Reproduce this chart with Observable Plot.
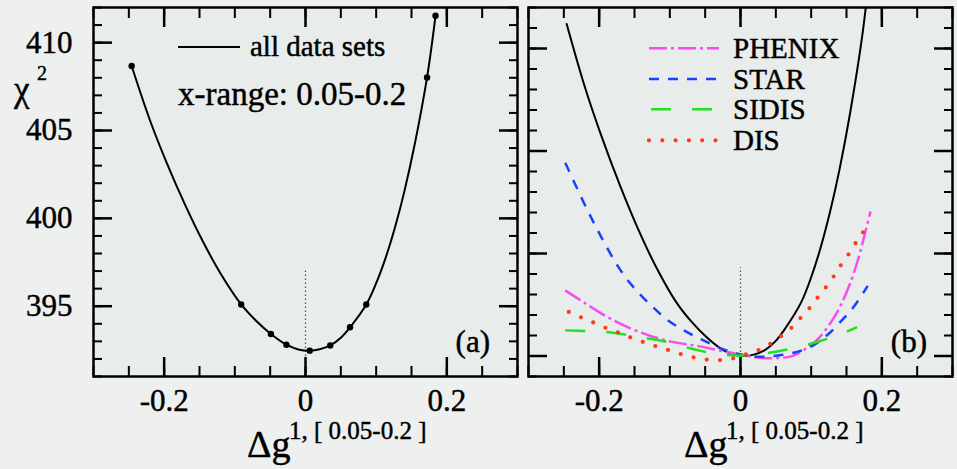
<!DOCTYPE html>
<html><head><meta charset="utf-8">
<script src="https://cdn.jsdelivr.net/npm/d3@7"></script>
<script src="https://cdn.jsdelivr.net/npm/@observablehq/plot@0.6"></script>
<style>
html,body{margin:0;padding:0;background:#edf0ee;}
#wrap{position:relative;width:957px;height:469px;overflow:hidden;font-family:"Liberation Serif","Times New Roman","DejaVu Serif",serif;}
#wrap > svg{position:absolute;top:0;}
#wrap text{font-family:"Liberation Serif","Times New Roman","DejaVu Serif",serif;}
</style></head><body><div id="wrap"></div>
<script>
// ---------- data ----------
// panel (a): chi^2 of all data sets vs Δg — computed points (dots)
const allX    = [-0.246, -0.091, -0.049, -0.027, 0.006, 0.035, 0.063, 0.086, 0.172, 0.184];
const allChi2 = [408.67, 395.10, 393.42, 392.81, 392.47, 392.77, 393.80, 395.10, 408.02, 411.53];
// the smooth curve drawn through them
const curveX    = [-0.246,-0.22,-0.197,-0.17,-0.145,-0.12,-0.091,-0.07,-0.049,-0.027,-0.01,0.006,0.02,0.035,0.05,0.063,0.086,0.1,0.113,0.127,0.14,0.155,0.172,0.184];
const curveChi2 = [408.67,405.57,403.22,400.74,398.67,396.85,395.10,394.17,393.42,392.81,392.54,392.47,392.55,392.77,393.21,393.80,395.10,396.31,397.71,399.54,401.55,404.30,408.02,411.53];
// panel (b): Δχ² contributions
const phenixX = [-0.248,-0.221,-0.183,-0.143,-0.102,-0.058,-0.015,0.028,0.05,0.072,0.09,0.108,0.134,0.153,0.167,0.177,0.184];
const phenixY = [3.2,2.6,1.8,1.17,0.73,0.47,0.17,-0.09,-0.1,-0.02,0.3,0.77,1.97,3.35,4.78,6.1,7.05];
const starX   = [-0.248,-0.221,-0.197,-0.172,-0.15,-0.126,-0.103,-0.08,-0.05,-0.022,0.0,0.025,0.053,0.08,0.103,0.122,0.141,0.16,0.18];
const starY   = [9.43,7.43,5.8,4.3,3.3,2.45,1.75,1.25,0.72,0.3,0.07,-0.04,0.03,0.2,0.52,1.0,1.65,2.39,3.42];
const sidisX  = [-0.248,-0.22,-0.19,-0.163,-0.135,-0.109,-0.078,-0.055,-0.025,0,0.033,0.056,0.087,0.113,0.141,0.165];
const sidisY  = [1.25,1.22,1.17,1.04,0.88,0.72,0.44,0.24,0.07,0.03,0.12,0.24,0.49,0.73,1.06,1.41];
const disX    = [-0.243,-0.226,-0.208,-0.192,-0.174,-0.156,-0.139,-0.121,-0.103,-0.085,-0.068,-0.049,-0.03,-0.011,0.007,0.025,0.041,0.056,0.072,0.084,0.097,0.108,0.12,0.131,0.141,0.152,0.162,0.173,0.182];
const disY    = [2.15,1.89,1.63,1.39,1.16,0.91,0.7,0.49,0.3,0.1,-0.05,-0.17,-0.2,-0.12,0.07,0.28,0.57,0.93,1.37,1.82,2.31,2.8,3.32,3.84,4.38,4.91,5.46,6.02,6.56];
// ticks
const xMajor = [-0.2, 0, 0.2];
const xMinor = [-0.3,-0.25,-0.2,-0.15,-0.1,-0.05,0,0.05,0.1,0.15,0.2,0.25,0.3];
const chiMajor = [395, 400, 405, 410];
const chiMinor = d3.range(391, 413);
const dMajor = [0, 5, 10, 15];
const dMinor = d3.range(-1, 18);
const xDomain = [-0.3, 0.3];
const chiDomain = [391, 412];
const dDomain = [-1, 17];
// dotted reference line at Δg = 0
const refA = [{x: 0, y1: 391, y2: 397}];
const refB = [{x: 0, y1: -1, y2: 4.3}];
// series legend
const series = [
  {name: "PHENIX", x: phenixX, y: phenixY, color: "#f84cee", dash: "18,4,3,4", cap: "butt", width: 2.5},
  {name: "STAR",   x: starX,   y: starY,   color: "#1c40ff", dash: "10,9", cap: "butt", width: 2.5},
  {name: "SIDIS",  x: sidisX,  y: sidisY,  color: "#22e022", dash: "20,21", cap: "butt", width: 2.5},
  {name: "DIS",    x: disX,    y: disY,    color: "#ff3a18", dash: "0,13.3", cap: "round", width: 4.2}
];

const FONT = "'Liberation Serif', 'Times New Roman', 'DejaVu Serif', serif";
const fmt = d => d === 0 ? "0" : String(d);
const toRows = (xs, ys) => xs.map((x, i) => ({x, y: ys[i]}));
const TS = {textStroke: "#000", textStrokeWidth: 0.45, textStrokeOpacity: 1};

function axes(yMajor, yMinor, showY) {
  const s = {stroke: "#000", label: null, fill: "none"};
  return [
    Plot.axisX(xMinor, {...s, anchor: "bottom", tickSize: -10, strokeWidth: 2}),
    Plot.axisX(xMajor, {...s, anchor: "bottom", tickSize: -19, strokeWidth: 2.5}),
    Plot.axisX(xMinor, {...s, anchor: "top", tickSize: -10, strokeWidth: 2}),
    Plot.axisX(xMajor, {...s, anchor: "top", tickSize: -19, strokeWidth: 2.5}),
    Plot.axisY(yMinor, {...s, anchor: "left", tickSize: -9, strokeWidth: 2}),
    Plot.axisY(yMajor, {...s, anchor: "left", tickSize: -19, strokeWidth: 2.5}),
    Plot.axisY(yMinor, {...s, anchor: "right", tickSize: -9, strokeWidth: 2}),
    Plot.axisY(yMajor, {...s, anchor: "right", tickSize: -19, strokeWidth: 2.5}),
    Plot.axisX(xMajor, {anchor: "bottom", tickSize: 0, tickPadding: 12, fontSize: 31, tickFormat: fmt, label: null, fill: "#000", ...TS}),
    showY ? Plot.axisY(yMajor, {anchor: "left", tickSize: 0, tickPadding: 21, fontSize: 31, label: null, fill: "#000", ...TS}) : null
  ];
}

const wrap = document.getElementById("wrap");

// ---- panel (a) ----
const rowsA = toRows(allX, allChi2);
const lineA = toRows(curveX, curveChi2);
const plotA = Plot.plot({
  width: 522, height: 469,
  marginLeft: 93, marginRight: 5, marginTop: 7, marginBottom: 93,
  x: {domain: xDomain},
  y: {domain: chiDomain},
  style: {background: "transparent", fontFamily: FONT, color: "#000", overflow: "visible"},
  marks: [
    Plot.frame({fill: "#e8ecea", stroke: "none"}),
    Plot.ruleX(refA, {x: "x", y1: "y1", y2: "y2", stroke: "#555", strokeWidth: 1.3, strokeDasharray: "1.5,2.5"}),
    Plot.line(lineA, {x: "x", y: "y", curve: "catmull-rom", stroke: "#000", strokeWidth: 2, clip: true}),
    Plot.dot(rowsA, {x: "x", y: "y", r: 3.2, fill: "#000", stroke: "none"}),
    ...axes(chiMajor, chiMinor, true),
    Plot.frame({stroke: "#000", strokeWidth: 2.5})
  ]
});
plotA.style.left = "0px";
wrap.appendChild(plotA);

// ---- panel (b) ----
const minChi = d3.min(curveChi2);
const lineB = curveX.map((x, i) => ({x, y: curveChi2[i] - minChi}));
const plotB = Plot.plot({
  width: 435, height: 469,
  marginLeft: 6, marginRight: 5, marginTop: 7, marginBottom: 93,
  x: {domain: xDomain},
  y: {domain: dDomain},
  style: {background: "transparent", fontFamily: FONT, color: "#000", overflow: "visible"},
  marks: [
    Plot.frame({fill: "#e8ecea", stroke: "none"}),
    Plot.ruleX(refB, {x: "x", y1: "y1", y2: "y2", stroke: "#555", strokeWidth: 1.3, strokeDasharray: "1.5,2.5"}),
    Plot.line(lineB, {x: "x", y: "y", curve: "catmull-rom", stroke: "#000", strokeWidth: 2, clip: true}),
    ...series.map(s => Plot.line(toRows(s.x, s.y), {x: "x", y: "y", curve: "catmull-rom", stroke: s.color, strokeWidth: s.width, strokeDasharray: s.dash, strokeLinecap: s.cap, clip: true})),
    ...axes(dMajor, dMinor, false),
    Plot.frame({stroke: "#000", strokeWidth: 2.5})
  ]
});
plotB.style.left = "522px";
wrap.appendChild(plotB);

// ---- overlay: legends, axis titles, panel tags ----
const ov = d3.select(wrap).append("svg")
  .attr("width", 957).attr("height", 469)
  .style("left", "0px").style("font-family", FONT).style("pointer-events", "none")
  .attr("stroke", "#000").attr("stroke-width", 0);
const txt = (x, y, size, s, anchor = "start") =>
  ov.append("text").attr("x", x).attr("y", y).attr("font-size", size).attr("text-anchor", anchor)
    .attr("fill", "#000").attr("stroke", "#000").attr("stroke-width", 0.45).attr("xml:space", "preserve").text(s);

// legend (a)
ov.append("line").attr("x1", 178).attr("x2", 240).attr("y1", 47).attr("y2", 47).attr("stroke", "#000").attr("stroke-width", 2);
txt(250, 56, 29, "all data sets");
txt(178, 105, 33, "x-range: 0.05-0.2");

// legend (b)
const legY = [48.3, 79, 109.3, 140.3];
series.forEach((s, i) => {
  ov.append("line").attr("x1", s.name === "SIDIS" ? 651 : 649).attr("x2", 719).attr("y1", legY[i]).attr("y2", legY[i])
    .attr("stroke", s.color).attr("stroke-width", s.width).attr("stroke-dasharray", s.dash).attr("stroke-linecap", s.cap);
  txt(733, legY[i] + 9.5, 29, s.name);
});

// panel tags
txt(490, 352, 31, "(a)", "end");
txt(927, 352, 31, "(b)", "end");

// y title χ²
txt(14, 101, 35, "χ");
txt(37, 80, 20, "2");

// x titles
[[247, 289], [684, 726]].forEach(([x0, x1]) => {
  txt(x0, 457, 38, "Δg");
  txt(x1, 439, 25, "1, [ 0.05-0.2 ]");
});
</script>
</body></html>
